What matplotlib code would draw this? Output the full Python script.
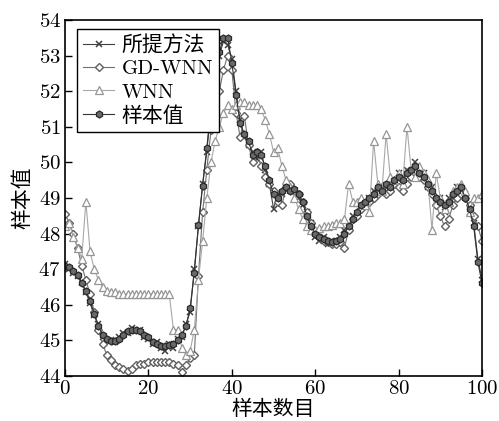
import matplotlib
matplotlib.use("Agg")
import matplotlib.pyplot as plt
import numpy as np

plt.rcParams['font.family'] = ['cmr10', 'Noto Sans CJK SC', 'DejaVu Sans']
plt.rcParams['axes.formatter.use_mathtext'] = True
plt.rcParams['font.size'] = 15

# sample index 0..100
n = np.arange(0, 101)

sample = [47.10, 47.05, 46.95, 46.85, 46.60, 46.40, 46.10, 45.75, 45.40, 45.15,
          45.05, 44.98, 44.98, 45.05, 45.15, 45.25, 45.30, 45.30, 45.25, 45.15,
          45.10, 44.95, 44.90, 44.85, 44.85, 44.88, 44.90, 45.00, 45.15, 45.40,
          45.90, 46.90, 48.25, 49.35, 50.40, 51.60, 52.40, 53.10, 53.50, 53.50,
          52.80, 51.90, 51.10, 50.80, 50.60, 50.20, 50.30, 50.20, 49.90, 49.50,
          49.10, 49.00, 49.20, 49.30, 49.20, 49.25, 49.10, 48.90, 48.50, 48.20,
          48.00, 47.90, 47.85, 47.80, 47.75, 47.80, 47.85, 48.00, 48.20, 48.40,
          48.60, 48.80, 48.90, 49.00, 49.10, 49.30, 49.20, 49.40, 49.30, 49.50,
          49.60, 49.50, 49.70, 49.80, 49.90, 49.70, 49.60, 49.40, 49.20, 49.00,
          48.90, 48.80, 48.90, 49.10, 49.20, 49.30, 49.00, 48.70, 48.20, 47.20,
          46.60]

proposed = [47.15, 47.00, 46.90, 46.80, 46.65, 46.35, 46.05, 45.70, 45.45, 45.10,
            45.00, 45.00, 44.95, 45.10, 45.20, 45.20, 45.35, 45.25, 45.30, 45.10,
            45.05, 44.90, 44.95, 44.80, 44.70, 44.90, 44.80, 45.05, 45.10, 45.45,
            45.80, 47.00, 48.20, 49.40, 50.30, 51.50, 52.50, 53.00, 53.40, 53.30,
            52.90, 52.00, 51.20, 50.70, 50.50, 50.30, 50.10, 50.30, 49.80, 49.40,
            48.70, 49.10, 49.10, 49.30, 49.30, 49.20, 49.00, 48.80, 48.60, 48.30,
            47.90, 47.80, 47.90, 47.70, 47.80, 47.80, 47.90, 48.10, 48.10, 48.50,
            48.50, 48.90, 48.80, 49.00, 49.20, 49.20, 49.30, 49.30, 49.40, 49.40,
            49.70, 49.40, 49.80, 49.70, 50.00, 49.60, 49.70, 49.30, 49.30, 48.90,
            49.00, 48.60, 49.00, 49.00, 49.30, 49.20, 49.10, 48.60, 48.30, 47.30,
            46.70]

gd_wnn = [48.55, 48.30, 48.00, 47.60, 47.10, 46.70, 46.30, 45.80, 45.30, 44.90,
          44.60, 44.45, 44.30, 44.25, 44.20, 44.15, 44.20, 44.30, 44.35, 44.35,
          44.40, 44.40, 44.40, 44.40, 44.40, 44.40, 44.35, 44.30, 44.10, 44.30,
          44.50, 44.60, 46.80, 48.60, 49.80, 50.90, 51.30, 52.00, 52.60, 53.00,
          52.60, 51.40, 50.70, 51.30, 50.50, 50.00, 50.30, 49.90, 49.60, 49.40,
          49.20, 48.90, 48.80, 49.30, 49.40, 49.20, 49.10, 48.90, 48.60, 48.30,
          48.00, 47.90, 47.80, 47.75, 47.70, 47.70, 47.75, 47.60, 48.10, 48.40,
          48.50, 48.70, 48.80, 48.90, 49.00, 49.10, 49.30, 49.10, 49.20, 49.40,
          49.30, 49.20, 49.40, 49.60, 49.80, 49.60, 49.50, 49.30, 49.10, 48.80,
          48.50, 48.20, 48.40, 48.80, 49.00, 49.10, 49.00, 48.80, 48.50, 48.20,
          47.80]

wnn = [48.20, 48.30, 47.90, 47.60, 47.30, 48.90, 47.50, 47.00, 46.70, 46.50,
       46.40, 46.35, 46.35, 46.30, 46.30, 46.30, 46.30, 46.30, 46.30, 46.30,
       46.30, 46.30, 46.30, 46.30, 46.30, 46.30, 45.30, 45.30, 44.80, 44.60,
       44.70, 45.30, 46.70, 47.80, 49.00, 50.00, 50.60, 51.00, 51.40, 51.60,
       51.50, 51.60, 51.70, 51.70, 51.60, 51.60, 51.60, 51.50, 51.20, 50.80,
       50.30, 50.40, 49.90, 49.50, 49.30, 49.00, 48.70, 48.40, 48.20, 48.10,
       48.10, 48.15, 48.20, 48.20, 48.25, 48.30, 48.30, 48.40, 49.40, 48.90,
       48.90, 49.00, 48.80, 48.60, 50.60, 49.40, 49.20, 50.80, 49.60, 49.50,
       49.70, 49.40, 51.00, 49.80, 49.60, 49.90, 49.70, 49.50, 48.10, 49.70,
       49.00, 48.70, 48.90, 49.20, 49.30, 49.40, 49.20, 48.60, 49.00, 49.00,
       49.10]

labels = ["所提方法", "GD-WNN", "WNN", "样本值"]

fig = plt.figure(figsize=(4.99, 4.21), dpi=100)
ax = fig.add_axes([0.1303, 0.1069, 0.8357, 0.8456])

ax.plot(n, proposed, color="#404040", lw=0.8, marker="x", ms=5, mew=1.1,
        label=labels[0])
ax.plot(n, gd_wnn, color="#707070", lw=0.8, marker="D", ms=4.5, mfc="white",
        mec="#606060", mew=1.0, label=labels[1])
ax.plot(n, wnn, color="#a8a8a8", lw=0.8, marker="^", ms=5.5, mfc="white",
        mec="#959595", mew=0.9, label=labels[2])
ax.plot(n, sample, color="#333333", lw=0.8, marker="h", ms=5, mfc="#6a6a6a",
        mec="#2a2a2a", mew=0.9, label=labels[3])

ax.set_xlim(0, 100)
ax.set_ylim(44, 54)
ax.set_xticks(np.arange(0, 101, 20))
ax.set_yticks(np.arange(44, 55, 1))
ax.tick_params(direction="in", length=5, width=1, top=False, right=False, pad=3)
for s in ax.spines.values():
    s.set_linewidth(1.2)

ax.set_xlabel("样本数目", labelpad=1)
ax.set_ylabel("样本值", labelpad=4)

leg = ax.legend(loc="upper left", bbox_to_anchor=(0.028, 0.975), fancybox=False,
                edgecolor="black", framealpha=1, handlelength=1.5,
                handletextpad=0.35, borderpad=0.3, labelspacing=0.22,
                borderaxespad=0)
leg.get_frame().set_linewidth(1.0)

fig.savefig("out.png", dpi=100)
